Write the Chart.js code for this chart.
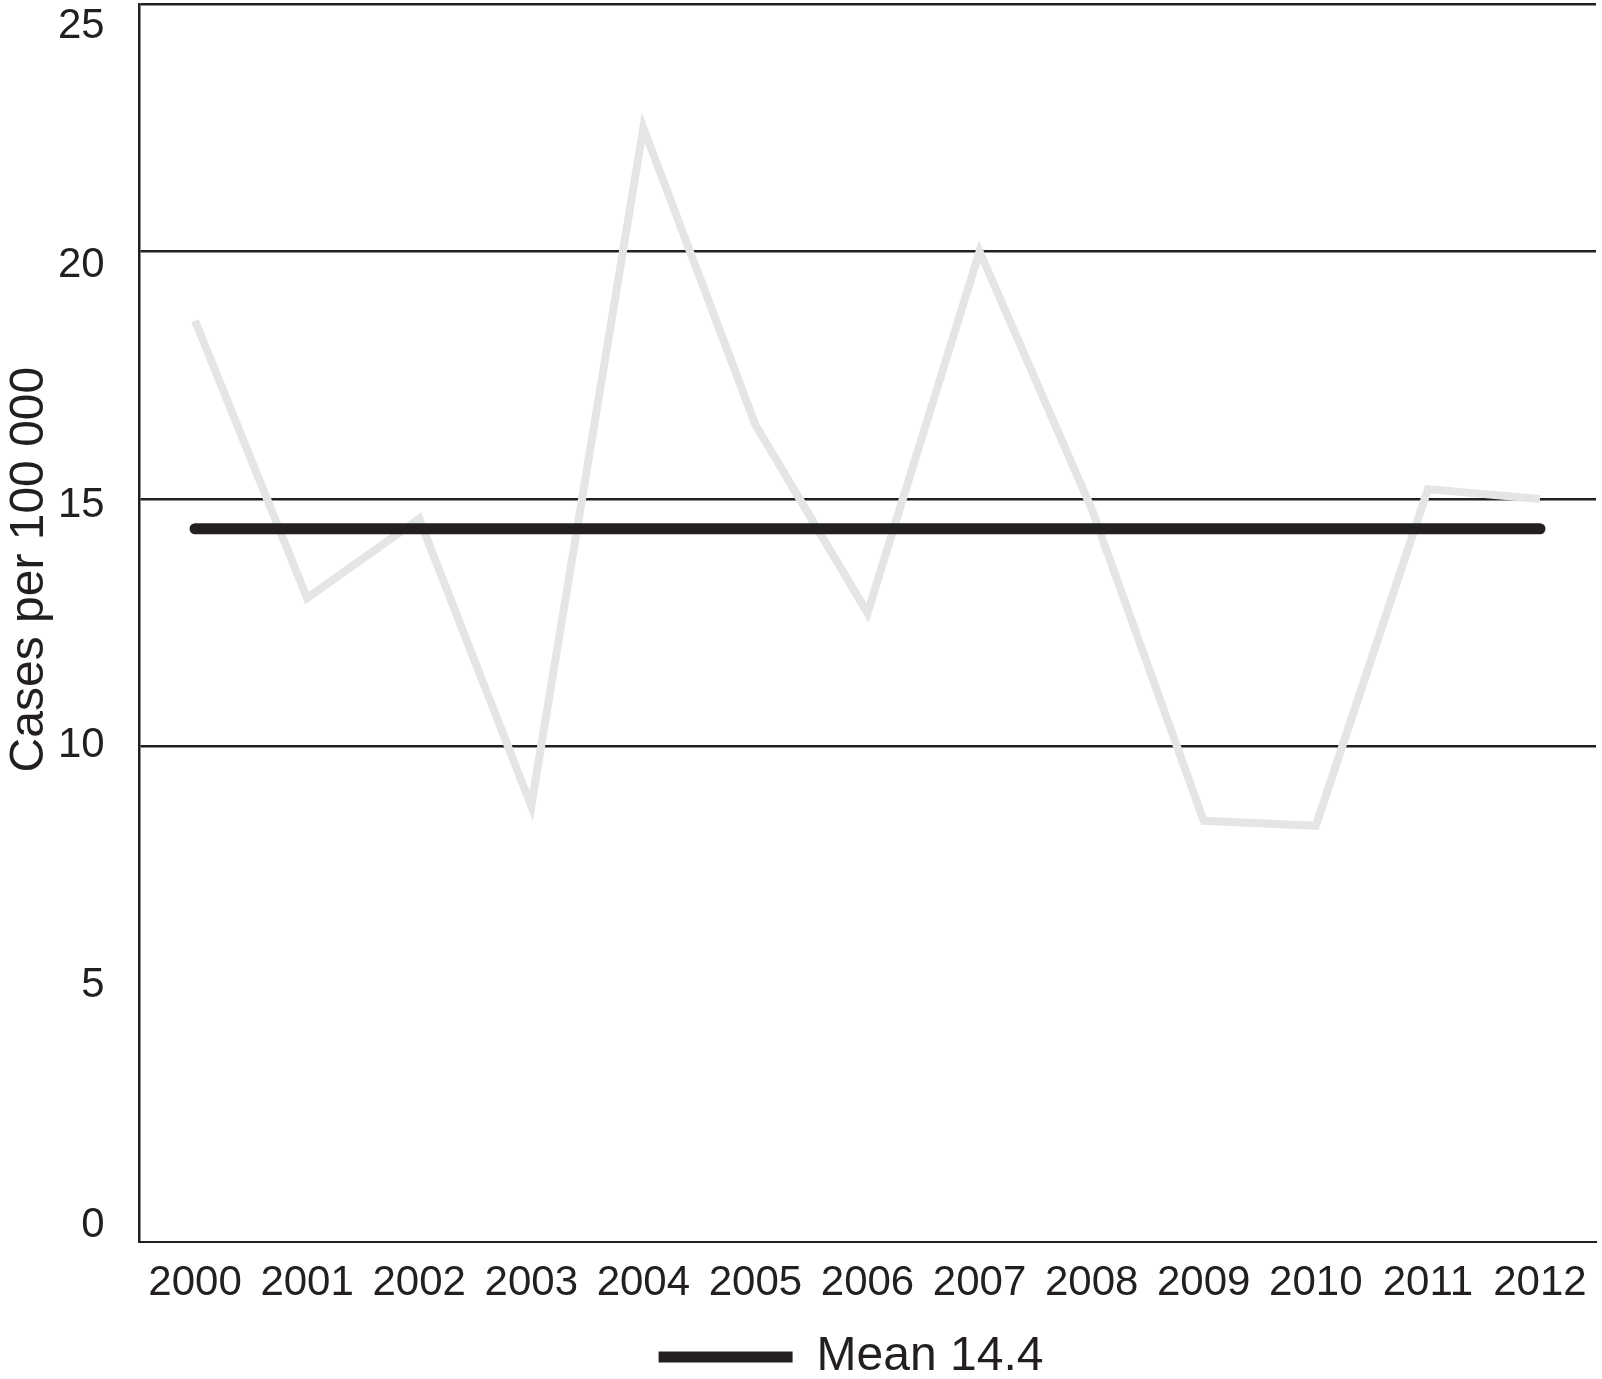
<!DOCTYPE html>
<html>
<head>
<meta charset="utf-8">
<script src="https://cdn.jsdelivr.net/npm/chart.js@4"></script>
<style>
  html, body { margin: 0; padding: 0; background: #ffffff; }
  #wrap { width: 1602px; height: 1379px; }
</style>
</head>
<body>
<div id="wrap"><canvas id="casesChart"></canvas></div>
<script>
// DATA
const years = ["2000", "2001", "2002", "2003", "2004", "2005", "2006",
               "2007", "2008", "2009", "2010", "2011", "2012"];
const casesPer100k = [18.6, 13.0, 14.6, 8.8, 22.5, 16.5, 12.7,
                      20.0, 14.8, 8.5, 8.4, 15.2, 15.0];
const meanLine = [14.4, 14.4, 14.4, 14.4, 14.4, 14.4, 14.4,
                  14.4, 14.4, 14.4, 14.4, 14.4, 14.4];
const meanLabel = "Mean 14.4";
const yTicks = [0, 5, 10, 15, 20, 25];
const yTitle = "Cases per 100 000";

const ink = "#231f20";
const fontFamily = "'Liberation Sans', Arial, Helvetica, sans-serif";

// labels are allowed to hang over the plot edges, like in the print
const noEdgePadding = (axis) => {
  axis.paddingTop = 0;
  axis.paddingBottom = 0;
  axis.paddingLeft = 0;
  axis.paddingRight = 0;
};

// y axis title, drawn rotated on the left
const yTitlePlugin = {
  id: "yTitle",
  afterDraw(chart) {
    const { ctx, chartArea } = chart;
    ctx.save();
    ctx.font = "48px " + fontFamily;
    ctx.fillStyle = ink;
    ctx.textAlign = "center";
    ctx.textBaseline = "middle";
    ctx.translate(30, chartArea.top + (chartArea.bottom - chartArea.top) * 0.457);
    ctx.rotate(-Math.PI / 2);
    ctx.fillText(yTitle, 0, 0);
    ctx.restore();
  }
};

const ctx = document.getElementById("casesChart");

new Chart(ctx, {
  type: "line",
  data: {
    labels: years,
    datasets: [
      {
        label: "Cases",
        data: casesPer100k,
        borderColor: "#e4e6e5",
        borderWidth: 8,
        pointRadius: 0,
        tension: 0,
        order: 1
      },
      {
        label: meanLabel,
        data: meanLine,
        borderColor: ink,
        backgroundColor: ink,
        borderWidth: 11,
        borderCapStyle: "round",
        pointRadius: 0,
        pointStyle: "line",
        order: 0
      }
    ]
  },
  options: {
    responsive: true,
    maintainAspectRatio: false,
    animation: false,
    layout: {
      padding: { left: 106, right: 6, top: 4, bottom: -12 }
    },
    plugins: {
      tooltip: { enabled: false },
      legend: {
        position: "bottom",
        labels: {
          filter: (item) => item.text === meanLabel,
          usePointStyle: true,
          pointStyleWidth: 134,
          color: ink,
          padding: 7,
          font: { family: fontFamily, size: 48 }
        }
      }
    },
    scales: {
      x: {
        offset: true,
        afterFit: noEdgePadding,
        grid: { display: false, drawTicks: false },
        border: { display: true, color: ink, width: 2 },
        ticks: {
          color: ink,
          padding: 17,
          maxRotation: 0,
          font: { family: fontFamily, size: 42 }
        }
      },
      y: {
        min: 0,
        max: 25,
        weight: 0,
        afterFit: (axis) => {
          noEdgePadding(axis);
          axis.width = 0;
        },
        ticks: { display: false, stepSize: 5 },
        grid: {
          drawTicks: false,
          lineWidth: 2.5,
          color: (c) => (c.tick && c.tick.value >= 10 ? ink : "rgba(0,0,0,0)")
        },
        border: { display: true, color: ink, width: 2.5 }
      },
      // tick labels only; spaced a little tighter than the gridlines as in the print.
      // mirrored with a negative padding so they sit left of the axis, right-aligned.
      yLabels: {
        type: "linear",
        position: "left",
        weight: 1,
        min: -0.34,
        max: 25.46,
        afterBuildTicks: (axis) => {
          axis.ticks = yTicks.map((v) => ({ value: v }));
        },
        afterFit: (axis) => {
          noEdgePadding(axis);
          axis.width = 33;
        },
        grid: { display: false, drawTicks: false },
        border: { display: false },
        ticks: {
          color: ink,
          mirror: true,
          crossAlign: "far",
          padding: -81,
          font: { family: fontFamily, size: 42 }
        }
      }
    }
  },
  plugins: [yTitlePlugin]
});
</script>
</body>
</html>
